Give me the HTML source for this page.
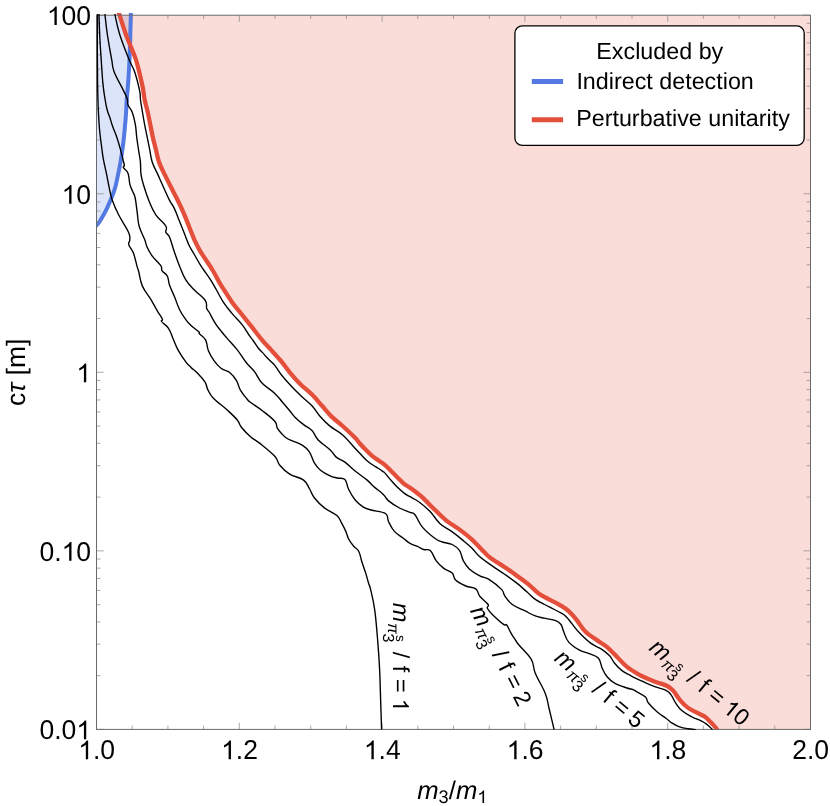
<!DOCTYPE html>
<html><head><meta charset="utf-8"><title>plot</title>
<style>
html,body{margin:0;padding:0;background:#fff;}
body{width:830px;height:806px;overflow:hidden;}
svg{display:block;will-change:transform;}
text{font-family:"Liberation Sans",sans-serif;fill:#000;text-rendering:geometricPrecision;}
.i{font-style:italic;}
</style></head><body>
<svg width="830" height="806" viewBox="0 0 830 806">
<rect x="0" y="0" width="830" height="806" fill="#fff"/>
<defs><clipPath id="cp2"><rect x="96.5" y="15.2" width="714.0" height="714.1999999999999"/></clipPath><clipPath id="cp"><rect x="96.5" y="12.899999999999999" width="714.0" height="716.9999999999999"/></clipPath></defs>

<path d="M130.9,10.0C130.9,10.5 131.0,8.8 130.9,13.0C130.8,17.2 130.5,27.2 130.3,35.0C130.1,42.8 129.9,51.3 129.5,59.6C129.1,67.9 128.5,78.3 128.0,85.0C127.5,91.7 127.0,95.4 126.7,100.0C126.4,104.6 126.4,108.3 126.1,112.4C125.8,116.5 125.5,120.7 125.1,124.8C124.7,128.9 124.4,133.1 123.9,137.2C123.5,141.3 123.0,145.5 122.4,149.6C121.8,153.7 121.2,157.9 120.5,162.0C119.8,166.1 119.0,170.2 118.1,174.4C117.2,178.7 116.3,183.5 115.2,187.5C114.1,191.5 112.7,194.8 111.2,198.5C109.7,202.2 108.1,206.2 106.2,209.9C104.3,213.7 101.6,218.4 100.0,221.0C98.4,223.6 97.8,223.7 96.5,225.3C95.2,226.9 93.2,229.6 92.5,230.5L96.5,15.2Z" fill="#527ae2" fill-opacity="0.2" clip-path="url(#cp2)"/>
<path d="M117.9,10.0C118.1,10.5 117.6,8.9 118.9,13.0C120.2,17.1 123.2,27.0 126.0,34.8C128.8,42.6 133.2,51.3 135.9,59.6C138.6,67.9 140.9,79.2 142.1,84.4C143.3,89.6 142.9,88.0 143.3,90.6C143.7,93.2 143.9,96.4 144.7,100.0C145.4,103.6 146.9,108.3 147.8,112.4C148.7,116.5 149.5,120.7 150.3,124.8C151.1,128.9 151.9,133.1 152.8,137.2C153.7,141.3 154.9,145.5 155.9,149.6C156.9,153.7 157.6,157.9 159.0,162.0C160.4,166.1 162.6,170.3 164.6,174.4C166.6,178.5 168.5,182.3 170.8,186.8C173.1,191.3 175.9,196.5 178.2,201.2C180.5,205.9 182.6,210.5 184.4,214.8C186.2,219.1 187.7,223.1 189.3,227.2C191.0,231.3 192.5,235.7 194.3,239.6C196.1,243.5 197.0,245.7 200.0,250.8C203.0,255.9 209.3,264.7 212.5,270.0C215.7,275.3 217.4,279.1 219.3,282.4C221.2,285.7 221.9,286.7 224.1,290.0C226.2,293.3 229.2,298.3 232.2,302.4C235.2,306.5 238.8,310.7 242.1,314.8C245.4,318.9 248.7,323.0 252.0,327.2C255.3,331.4 258.6,335.9 261.9,339.8C265.1,343.7 268.2,346.8 271.5,350.4C274.8,354.0 278.2,357.7 281.4,361.5C284.6,365.3 287.2,369.4 290.5,373.3C293.8,377.2 297.3,381.1 300.9,384.7C304.5,388.2 308.5,391.1 312.0,394.6C315.5,398.1 318.7,402.1 322.0,405.8C325.3,409.5 328.5,413.6 331.9,416.9C335.2,420.2 338.3,422.1 342.1,425.5C345.9,428.9 351.8,434.6 354.8,437.6C357.8,440.6 358.1,441.6 360.0,443.7C361.9,445.8 364.1,448.1 366.2,450.2C368.3,452.3 370.3,454.4 372.4,456.1C374.5,457.8 376.5,459.1 378.6,460.5C380.7,461.9 382.7,463.1 384.8,464.8C386.9,466.6 388.9,468.9 391.0,471.0C393.1,473.1 395.1,475.1 397.2,477.2C399.3,479.3 401.3,481.6 403.4,483.4C405.5,485.2 407.8,486.2 410.0,487.8C412.2,489.4 414.7,491.2 416.8,492.8C418.9,494.4 419.4,494.6 422.4,497.4C425.4,500.2 430.9,506.0 434.8,509.8C438.7,513.6 441.9,517.0 446.0,520.3C450.1,523.6 455.3,526.4 459.6,529.6C463.9,532.8 467.9,535.8 472.0,539.6C476.1,543.4 481.4,549.3 484.4,552.3C487.4,555.3 486.5,554.9 489.9,557.4C493.3,559.9 500.2,564.2 504.8,567.3C509.4,570.4 513.1,573.0 517.2,576.0C521.3,579.0 526.1,582.4 529.6,585.3C533.1,588.2 535.0,590.9 538.3,593.3C541.6,595.7 545.8,597.6 549.5,599.6C553.2,601.6 557.1,603.4 560.3,605.3C563.4,607.2 565.7,608.5 568.4,610.9C571.1,613.3 573.7,616.3 576.4,619.6C579.1,622.9 581.5,627.6 584.8,630.9C588.1,634.2 592.3,636.9 596.0,639.6C599.7,642.3 603.6,644.2 607.1,647.1C610.6,650.0 613.8,653.7 617.1,657.0C620.4,660.3 623.3,663.9 627.0,666.9C630.7,669.9 635.3,672.5 639.4,674.8C643.5,677.0 648.4,679.0 651.8,680.4C655.2,681.8 657.4,682.5 660.0,683.4C662.6,684.3 665.0,684.8 667.2,686.0C669.4,687.2 671.3,688.6 673.4,690.9C675.5,693.2 677.3,696.9 679.6,699.6C681.9,702.3 684.2,704.9 687.1,707.1C690.0,709.3 694.1,711.2 697.0,712.7C699.9,714.2 702.1,714.9 704.4,716.4C706.7,717.9 708.4,719.8 710.6,722.0C712.8,724.2 716.4,728.5 717.5,729.8L810.5,729.4L810.5,15.2Z" fill="#e44f3c" fill-opacity="0.2" clip-path="url(#cp2)"/>
<g clip-path="url(#cp)" fill="none" stroke-linejoin="round" stroke-linecap="butt">
<path d="M130.9,10.0C130.9,10.5 131.0,8.8 130.9,13.0C130.8,17.2 130.5,27.2 130.3,35.0C130.1,42.8 129.9,51.3 129.5,59.6C129.1,67.9 128.5,78.3 128.0,85.0C127.5,91.7 127.0,95.4 126.7,100.0C126.4,104.6 126.4,108.3 126.1,112.4C125.8,116.5 125.5,120.7 125.1,124.8C124.7,128.9 124.4,133.1 123.9,137.2C123.5,141.3 123.0,145.5 122.4,149.6C121.8,153.7 121.2,157.9 120.5,162.0C119.8,166.1 119.0,170.2 118.1,174.4C117.2,178.7 116.3,183.5 115.2,187.5C114.1,191.5 112.7,194.8 111.2,198.5C109.7,202.2 108.1,206.2 106.2,209.9C104.3,213.7 101.6,218.4 100.0,221.0C98.4,223.6 97.8,223.7 96.5,225.3C95.2,226.9 93.2,229.6 92.5,230.5" stroke="#527ae2" stroke-width="4.0"/>
<path d="M117.9,10.0C118.1,10.5 117.6,8.9 118.9,13.0C120.2,17.1 123.2,27.0 126.0,34.8C128.8,42.6 133.2,51.3 135.9,59.6C138.6,67.9 140.9,79.2 142.1,84.4C143.3,89.6 142.9,88.0 143.3,90.6C143.7,93.2 143.9,96.4 144.7,100.0C145.4,103.6 146.9,108.3 147.8,112.4C148.7,116.5 149.5,120.7 150.3,124.8C151.1,128.9 151.9,133.1 152.8,137.2C153.7,141.3 154.9,145.5 155.9,149.6C156.9,153.7 157.6,157.9 159.0,162.0C160.4,166.1 162.6,170.3 164.6,174.4C166.6,178.5 168.5,182.3 170.8,186.8C173.1,191.3 175.9,196.5 178.2,201.2C180.5,205.9 182.6,210.5 184.4,214.8C186.2,219.1 187.7,223.1 189.3,227.2C191.0,231.3 192.5,235.7 194.3,239.6C196.1,243.5 197.0,245.7 200.0,250.8C203.0,255.9 209.3,264.7 212.5,270.0C215.7,275.3 217.4,279.1 219.3,282.4C221.2,285.7 221.9,286.7 224.1,290.0C226.2,293.3 229.2,298.3 232.2,302.4C235.2,306.5 238.8,310.7 242.1,314.8C245.4,318.9 248.7,323.0 252.0,327.2C255.3,331.4 258.6,335.9 261.9,339.8C265.1,343.7 268.2,346.8 271.5,350.4C274.8,354.0 278.2,357.7 281.4,361.5C284.6,365.3 287.2,369.4 290.5,373.3C293.8,377.2 297.3,381.1 300.9,384.7C304.5,388.2 308.5,391.1 312.0,394.6C315.5,398.1 318.7,402.1 322.0,405.8C325.3,409.5 328.5,413.6 331.9,416.9C335.2,420.2 338.3,422.1 342.1,425.5C345.9,428.9 351.8,434.6 354.8,437.6C357.8,440.6 358.1,441.6 360.0,443.7C361.9,445.8 364.1,448.1 366.2,450.2C368.3,452.3 370.3,454.4 372.4,456.1C374.5,457.8 376.5,459.1 378.6,460.5C380.7,461.9 382.7,463.1 384.8,464.8C386.9,466.6 388.9,468.9 391.0,471.0C393.1,473.1 395.1,475.1 397.2,477.2C399.3,479.3 401.3,481.6 403.4,483.4C405.5,485.2 407.8,486.2 410.0,487.8C412.2,489.4 414.7,491.2 416.8,492.8C418.9,494.4 419.4,494.6 422.4,497.4C425.4,500.2 430.9,506.0 434.8,509.8C438.7,513.6 441.9,517.0 446.0,520.3C450.1,523.6 455.3,526.4 459.6,529.6C463.9,532.8 467.9,535.8 472.0,539.6C476.1,543.4 481.4,549.3 484.4,552.3C487.4,555.3 486.5,554.9 489.9,557.4C493.3,559.9 500.2,564.2 504.8,567.3C509.4,570.4 513.1,573.0 517.2,576.0C521.3,579.0 526.1,582.4 529.6,585.3C533.1,588.2 535.0,590.9 538.3,593.3C541.6,595.7 545.8,597.6 549.5,599.6C553.2,601.6 557.1,603.4 560.3,605.3C563.4,607.2 565.7,608.5 568.4,610.9C571.1,613.3 573.7,616.3 576.4,619.6C579.1,622.9 581.5,627.6 584.8,630.9C588.1,634.2 592.3,636.9 596.0,639.6C599.7,642.3 603.6,644.2 607.1,647.1C610.6,650.0 613.8,653.7 617.1,657.0C620.4,660.3 623.3,663.9 627.0,666.9C630.7,669.9 635.3,672.5 639.4,674.8C643.5,677.0 648.4,679.0 651.8,680.4C655.2,681.8 657.4,682.5 660.0,683.4C662.6,684.3 665.0,684.8 667.2,686.0C669.4,687.2 671.3,688.6 673.4,690.9C675.5,693.2 677.3,696.9 679.6,699.6C681.9,702.3 684.2,704.9 687.1,707.1C690.0,709.3 694.1,711.2 697.0,712.7C699.9,714.2 702.1,714.9 704.4,716.4C706.7,717.9 708.4,719.8 710.6,722.0C712.8,724.2 716.4,728.5 717.5,729.8" stroke="#e44f3c" stroke-width="4.3"/>
</g>
<path d="M96.50,729.4v-6.6M96.50,15.2v6.6M132.20,729.4v-3.8M132.20,15.2v3.8M167.90,729.4v-3.8M167.90,15.2v3.8M203.60,729.4v-3.8M203.60,15.2v3.8M239.30,729.4v-6.6M239.30,15.2v6.6M275.00,729.4v-3.8M275.00,15.2v3.8M310.70,729.4v-3.8M310.70,15.2v3.8M346.40,729.4v-3.8M346.40,15.2v3.8M382.10,729.4v-6.6M382.10,15.2v6.6M417.80,729.4v-3.8M417.80,15.2v3.8M453.50,729.4v-3.8M453.50,15.2v3.8M489.20,729.4v-3.8M489.20,15.2v3.8M524.90,729.4v-6.6M524.90,15.2v6.6M560.60,729.4v-3.8M560.60,15.2v3.8M596.30,729.4v-3.8M596.30,15.2v3.8M632.00,729.4v-3.8M632.00,15.2v3.8M667.70,729.4v-6.6M667.70,15.2v6.6M703.40,729.4v-3.8M703.40,15.2v3.8M739.10,729.4v-3.8M739.10,15.2v3.8M774.80,729.4v-3.8M774.80,15.2v3.8M810.50,729.4v-6.6M810.50,15.2v6.6M96.5,729.40h7.2M810.5,729.40h-7.2M96.5,675.65h3.9M810.5,675.65h-3.9M96.5,644.21h3.9M810.5,644.21h-3.9M96.5,621.90h3.9M810.5,621.90h-3.9M96.5,604.60h3.9M810.5,604.60h-3.9M96.5,590.46h3.9M810.5,590.46h-3.9M96.5,578.51h3.9M810.5,578.51h-3.9M96.5,568.15h3.9M810.5,568.15h-3.9M96.5,559.02h3.9M810.5,559.02h-3.9M96.5,550.85h7.2M810.5,550.85h-7.2M96.5,497.10h3.9M810.5,497.10h-3.9M96.5,465.66h3.9M810.5,465.66h-3.9M96.5,443.35h3.9M810.5,443.35h-3.9M96.5,426.05h3.9M810.5,426.05h-3.9M96.5,411.91h3.9M810.5,411.91h-3.9M96.5,399.96h3.9M810.5,399.96h-3.9M96.5,389.60h3.9M810.5,389.60h-3.9M96.5,380.47h3.9M810.5,380.47h-3.9M96.5,372.30h7.2M810.5,372.30h-7.2M96.5,318.55h3.9M810.5,318.55h-3.9M96.5,287.11h3.9M810.5,287.11h-3.9M96.5,264.80h3.9M810.5,264.80h-3.9M96.5,247.50h3.9M810.5,247.50h-3.9M96.5,233.36h3.9M810.5,233.36h-3.9M96.5,221.41h3.9M810.5,221.41h-3.9M96.5,211.05h3.9M810.5,211.05h-3.9M96.5,201.92h3.9M810.5,201.92h-3.9M96.5,193.75h7.2M810.5,193.75h-7.2M96.5,140.00h3.9M810.5,140.00h-3.9M96.5,108.56h3.9M810.5,108.56h-3.9M96.5,86.25h3.9M810.5,86.25h-3.9M96.5,68.95h3.9M810.5,68.95h-3.9M96.5,54.81h3.9M810.5,54.81h-3.9M96.5,42.86h3.9M810.5,42.86h-3.9M96.5,32.50h3.9M810.5,32.50h-3.9M96.5,23.37h3.9M810.5,23.37h-3.9M96.5,15.20h7.2M810.5,15.20h-7.2" stroke="#858585" stroke-width="0.7" fill="none"/>
<rect x="96.5" y="15.2" width="714.0" height="714.1999999999999" fill="none" stroke="#6a6a6a" stroke-width="1"/>
<g clip-path="url(#cp)" fill="none" stroke-linejoin="round" stroke-linecap="butt">
<path d="M97.5,14.0C97.5,20.2 97.3,33.8 97.3,45.0C97.3,56.2 97.4,61.0 97.5,70.0C97.6,79.0 97.5,82.0 97.7,90.0C97.9,98.0 97.9,102.2 98.3,110.0C98.7,117.8 98.8,121.2 99.5,129.0C100.2,136.8 101.1,142.8 101.9,149.0C102.7,155.2 102.5,154.5 103.5,159.9C104.5,165.3 105.7,169.9 106.9,175.8C108.1,181.7 108.5,184.8 109.6,189.6C110.7,194.4 110.4,195.0 112.2,200.0C114.0,205.0 115.3,208.4 118.6,214.8C121.9,221.2 126.3,227.2 128.5,232.2C130.7,237.2 129.7,237.1 129.8,239.6C129.9,242.1 128.1,241.9 128.8,244.6C129.5,247.3 131.8,248.8 133.5,253.3C135.2,257.8 136.1,263.2 137.2,266.9C138.3,270.6 137.8,268.2 138.8,272.0C139.8,275.8 139.9,280.5 142.4,286.1C144.9,291.7 148.1,294.8 151.1,299.8C154.1,304.8 155.1,307.1 157.3,310.9C159.5,314.7 161.4,316.9 162.3,319.0C163.2,321.1 160.4,319.6 161.6,321.5C162.8,323.4 166.1,324.7 168.5,328.3C170.9,331.9 171.4,335.0 173.4,339.5C175.4,344.0 175.9,346.1 178.4,350.6C180.9,355.1 183.3,358.4 185.8,361.8C188.3,365.2 188.7,365.1 191.0,367.4C193.3,369.7 194.6,370.2 197.4,373.1C200.2,376.0 202.8,378.5 204.9,381.8C207.0,385.1 206.1,386.3 207.8,389.6C209.5,392.9 209.5,394.1 213.4,398.2C217.3,402.3 222.5,405.7 227.3,410.1C232.1,414.5 234.5,416.6 237.3,420.0C240.1,423.4 238.6,423.6 241.2,427.0C243.8,430.4 246.8,433.5 250.5,436.8C254.2,440.1 255.0,439.5 259.9,443.4C264.8,447.3 270.8,451.9 274.8,456.3C278.8,460.7 276.8,461.6 279.8,465.2C282.8,468.8 284.9,471.1 289.7,474.1C294.5,477.1 299.6,477.1 303.6,480.1C307.6,483.1 307.4,485.4 309.6,489.0C311.8,492.6 311.5,494.2 314.5,498.0C317.5,501.8 319.9,504.4 324.4,507.9C328.9,511.4 333.4,512.4 336.9,515.5C340.4,518.6 340.0,520.2 341.8,523.4C343.6,526.6 344.4,528.2 345.8,531.4C347.2,534.6 347.2,536.3 348.8,539.3C350.4,542.3 351.7,543.9 353.7,546.3C355.7,548.7 357.1,548.2 358.7,551.2C360.3,554.2 360.3,556.8 361.7,561.2C363.1,565.6 364.3,568.7 365.7,573.1C367.1,577.5 367.5,579.6 368.5,583.0C369.5,586.4 369.5,584.5 370.7,589.9C371.9,595.3 373.3,599.9 374.7,609.8C376.1,619.7 376.6,627.7 377.6,639.6C378.6,651.5 379.0,657.4 379.6,669.3C380.2,681.2 380.2,687.0 380.6,699.1C381.0,711.2 381.4,723.5 381.6,729.6" stroke="#000" stroke-width="1.38"/>
<path d="M99.0,14.0C99.1,18.2 99.3,25.7 99.7,34.8C100.1,43.9 100.5,49.7 101.2,59.6C101.9,69.5 102.2,76.3 103.0,84.4C103.8,92.5 104.4,94.9 105.2,100.0C106.0,105.1 106.3,106.6 107.2,110.0C108.1,113.4 108.6,113.8 109.7,117.0C110.8,120.2 111.1,122.1 112.5,126.1C113.9,130.1 115.2,132.5 116.8,137.2C118.4,141.9 119.1,144.6 120.5,149.6C121.9,154.6 122.8,158.8 123.6,162.0C124.4,165.2 124.3,164.7 124.3,165.8C124.3,166.9 122.7,166.1 123.4,167.6C124.1,169.1 126.7,169.8 128.0,173.2C129.3,176.6 129.0,180.8 129.9,184.4C130.8,188.0 131.4,188.3 132.5,191.0C133.6,193.7 134.3,193.7 135.2,198.0C136.1,202.3 136.4,206.7 137.2,212.3C138.0,217.9 137.6,220.5 139.1,226.0C140.6,231.5 143.1,235.4 144.7,239.6C146.3,243.8 145.6,243.9 147.1,247.1C148.6,250.3 149.4,252.1 152.1,255.8C154.8,259.5 158.8,262.7 160.8,265.7C162.8,268.7 160.7,268.5 162.0,270.6C163.3,272.7 165.9,273.3 167.4,276.2C168.9,279.1 168.0,280.8 169.5,285.0C171.0,289.2 172.7,292.4 174.7,297.3C176.7,302.2 177.4,305.2 179.6,309.7C181.8,314.2 183.5,316.4 185.8,319.6C188.1,322.8 188.4,323.2 191.0,325.6C193.6,328.0 197.1,330.1 198.8,331.8C200.5,333.5 198.1,332.3 199.5,333.9C200.9,335.5 203.8,336.5 205.6,339.9C207.4,343.3 206.7,346.6 208.4,350.7C210.1,354.8 211.5,357.1 214.0,360.6C216.5,364.1 217.9,365.8 221.0,368.2C224.1,370.6 226.6,370.0 229.7,372.5C232.8,375.0 234.4,377.1 236.5,380.6C238.6,384.1 238.3,386.4 240.4,390.1C242.5,393.8 245.3,396.8 247.2,399.2C249.1,401.6 247.0,399.7 250.0,402.0C253.0,404.3 257.4,406.8 262.4,410.7C267.4,414.6 271.8,417.8 274.8,421.3C277.8,424.8 275.8,425.5 277.3,428.1C278.8,430.7 280.2,432.1 282.3,434.3C284.4,436.5 283.9,436.8 288.0,439.0C292.1,441.2 298.3,442.7 302.6,445.4C306.9,448.1 307.2,448.7 309.6,452.3C312.0,455.9 312.3,459.6 314.5,463.2C316.7,466.8 317.4,467.7 320.5,470.2C323.6,472.7 326.6,474.2 330.0,475.8C333.4,477.4 334.4,477.2 337.4,478.0C340.4,478.8 342.6,477.3 344.9,479.6C347.2,481.9 346.6,485.4 348.7,489.5C350.8,493.6 352.3,496.5 355.2,500.0C358.1,503.5 359.8,504.8 363.0,506.8C366.2,508.8 366.5,508.7 371.0,510.0C375.5,511.3 382.0,511.2 385.5,513.5C389.0,515.8 386.7,517.9 388.5,521.5C390.3,525.1 391.4,528.0 394.4,531.4C397.4,534.8 400.3,535.9 403.4,538.3C406.5,540.7 407.2,541.7 410.0,543.3C412.8,544.9 414.7,545.2 417.4,546.4C420.1,547.6 421.0,548.6 423.6,549.5C426.2,550.4 428.0,548.5 430.5,550.7C433.0,552.9 433.5,557.1 436.1,560.6C438.7,564.1 440.3,565.6 443.5,568.1C446.7,570.6 449.8,570.7 452.2,573.1C454.6,575.5 452.9,577.4 455.6,580.0C458.3,582.6 461.8,584.2 465.8,586.0C469.8,587.8 472.9,586.8 475.7,588.9C478.5,591.0 477.5,593.4 480.0,596.5C482.5,599.6 486.6,602.2 488.1,604.5C489.6,606.8 486.5,606.2 487.4,608.2C488.3,610.2 489.2,611.2 492.4,614.4C495.6,617.6 500.7,622.3 503.6,624.4C506.5,626.5 505.2,623.3 506.7,625.0C508.2,626.7 509.3,630.1 511.0,633.1C512.7,636.1 513.7,637.5 515.4,640.0C517.1,642.5 516.2,641.6 519.4,645.5C522.6,649.4 528.1,653.8 531.3,659.4C534.5,665.0 532.5,666.5 535.3,673.3C538.1,680.1 542.4,686.1 545.2,693.2C548.0,700.3 547.4,701.7 549.2,709.0C551.0,716.3 553.1,725.5 554.1,729.6" stroke="#000" stroke-width="1.38"/>
<path d="M104.9,14.0C105.4,18.2 106.0,25.7 107.4,34.8C108.8,43.9 110.3,52.2 111.7,59.6C113.1,67.0 111.8,65.8 114.2,72.0C116.6,78.2 120.9,85.2 123.5,90.6C126.1,96.0 126.4,96.1 127.3,99.0C128.2,101.9 127.0,102.3 128.0,105.0C129.0,107.7 130.8,108.4 132.3,112.4C133.8,116.4 134.5,119.8 135.4,124.8C136.3,129.8 136.1,132.2 136.7,137.2C137.3,142.2 137.8,144.6 138.5,149.6C139.2,154.6 139.9,157.0 140.4,162.0C140.9,167.0 140.3,169.4 141.0,174.4C141.7,179.4 142.5,181.5 144.1,186.8C145.7,192.1 146.7,195.4 149.0,201.0C151.3,206.6 152.4,209.8 155.8,214.8C159.2,219.8 163.8,222.5 165.8,226.0C167.8,229.5 165.1,230.0 165.8,232.2C166.5,234.4 167.8,233.1 169.5,237.1C171.2,241.1 172.4,246.3 174.4,252.0C176.4,257.7 177.1,260.1 179.4,265.7C181.7,271.3 182.8,275.0 185.8,279.9C188.8,284.8 190.5,285.9 194.4,290.0C198.3,294.1 202.8,296.8 205.3,300.5C207.8,304.2 205.8,306.0 206.7,308.5C207.6,311.0 207.9,310.0 209.6,313.0C211.3,316.0 212.9,319.6 215.3,323.4C217.7,327.2 219.4,329.0 221.8,332.0C224.2,335.0 224.1,334.9 227.2,338.4C230.3,341.9 233.4,344.9 237.1,349.6C240.8,354.3 243.2,358.6 245.8,362.0C248.4,365.4 248.2,364.6 250.0,366.7C251.8,368.8 252.6,369.0 255.0,372.3C257.4,375.6 258.2,379.0 262.2,383.2C266.2,387.4 270.8,389.6 274.8,393.4C278.8,397.2 279.3,398.5 282.3,402.0C285.3,405.5 287.2,407.7 289.7,410.7C292.2,413.7 292.0,414.2 294.7,416.9C297.4,419.6 299.8,421.7 303.3,424.4C306.8,427.1 309.0,427.5 312.0,430.6C315.0,433.7 314.6,436.2 318.2,440.0C321.8,443.8 326.4,446.3 330.0,449.7C333.6,453.1 333.2,454.6 336.2,457.1C339.2,459.6 341.2,459.4 344.9,462.1C348.6,464.8 350.3,467.2 354.8,470.8C359.3,474.4 363.5,477.0 367.2,480.1C370.9,483.2 370.2,483.4 373.4,486.3C376.6,489.2 380.3,491.5 383.3,494.4C386.3,497.3 385.1,497.9 388.3,500.6C391.5,503.3 395.2,505.7 399.5,508.0C403.8,510.3 406.9,511.0 410.0,512.3C413.1,513.6 412.5,511.7 415.0,514.7C417.5,517.7 418.4,522.4 422.4,527.1C426.4,531.8 430.8,535.3 434.8,538.3C438.8,541.3 438.8,540.8 442.3,542.0C445.8,543.2 448.7,542.8 452.2,544.5C455.7,546.2 457.4,547.5 459.6,550.7C461.8,553.9 461.3,556.9 463.3,560.6C465.3,564.3 466.3,566.3 469.6,569.3C472.9,572.3 475.8,573.7 479.8,575.8C483.8,577.9 485.3,577.0 489.7,579.8C494.1,582.6 498.7,586.4 501.7,589.6C504.7,592.8 502.7,592.8 504.8,595.8C506.9,598.8 508.3,601.5 512.3,604.5C516.3,607.5 520.2,608.5 524.7,610.7C529.2,612.9 530.6,614.2 534.6,615.7C538.6,617.2 540.3,617.2 544.5,618.2C548.7,619.2 552.4,619.3 555.7,620.6C559.0,621.9 559.4,622.2 561.0,624.5C562.6,626.8 562.3,628.5 563.8,632.0C565.3,635.5 565.7,638.6 568.7,642.1C571.7,645.6 574.4,647.2 578.6,649.6C582.8,652.0 585.8,652.2 589.8,653.9C593.8,655.6 596.0,655.3 598.5,658.2C601.0,661.1 600.5,664.5 602.2,668.2C603.9,671.9 604.6,673.8 607.1,676.8C609.6,679.8 610.6,680.9 614.6,683.1C618.6,685.3 623.3,686.7 627.0,688.0C630.7,689.3 630.9,688.8 633.0,689.6C635.1,690.4 634.9,690.7 637.4,692.2C639.9,693.7 643.3,694.9 645.5,697.1C647.7,699.3 646.2,700.3 648.6,703.3C651.0,706.3 653.8,709.0 657.3,712.0C660.8,715.0 663.0,716.0 666.0,718.2C669.0,720.4 669.5,721.5 672.2,723.2C674.9,724.9 676.4,725.8 679.6,726.9C682.8,728.0 685.1,728.3 688.3,728.8C691.5,729.3 694.3,729.4 695.8,729.6" stroke="#000" stroke-width="1.38"/>
<path d="M114.8,14.0C115.8,18.2 116.9,25.7 119.8,34.8C122.7,43.9 126.1,52.2 129.1,59.6C132.1,67.0 132.6,65.8 134.7,72.0C136.8,78.2 138.4,85.0 139.6,90.6C140.8,96.2 139.9,95.6 140.5,100.0C141.1,104.4 141.7,107.4 142.5,112.4C143.3,117.4 143.8,119.8 144.7,124.8C145.6,129.8 146.2,132.2 147.2,137.2C148.2,142.2 148.7,144.6 149.7,149.6C150.7,154.6 150.6,157.0 152.2,162.0C153.8,167.0 155.6,169.4 157.8,174.4C160.0,179.4 161.0,181.7 163.3,186.8C165.6,191.9 167.1,195.5 169.3,199.9C171.5,204.3 172.4,204.4 174.4,208.6C176.4,212.8 177.4,216.0 179.4,221.0C181.4,226.0 182.4,228.4 184.4,233.4C186.4,238.4 187.3,241.6 189.3,245.8C191.3,250.0 192.2,250.8 194.3,254.5C196.4,258.2 198.1,261.3 200.0,264.4C201.9,267.5 201.7,266.9 203.8,270.0C205.9,273.1 208.1,275.9 210.6,279.9C213.1,283.9 213.9,285.5 216.5,290.0C219.1,294.5 220.4,297.7 223.5,302.4C226.6,307.1 228.5,309.1 232.2,313.6C235.9,318.1 238.6,320.2 242.1,324.7C245.6,329.2 247.4,332.7 249.6,335.9C251.8,339.1 251.4,338.1 253.1,340.5C254.8,342.9 256.3,345.6 258.2,348.0C260.1,350.4 260.7,350.5 262.4,352.4C264.1,354.3 264.7,355.3 266.9,357.6C269.1,359.9 271.6,361.9 273.6,364.0C275.6,366.1 275.1,365.8 276.8,368.2C278.5,370.6 279.6,372.6 282.3,376.0C285.0,379.4 286.8,381.2 290.5,385.2C294.2,389.2 296.6,391.7 300.9,395.8C305.2,399.9 308.3,401.8 312.0,405.8C315.7,409.8 316.0,411.7 319.5,415.7C323.0,419.7 325.1,422.1 329.7,425.9C334.3,429.7 337.4,430.4 342.4,434.8C347.4,439.2 351.3,444.2 354.8,448.0C358.3,451.8 357.7,451.2 360.0,453.6C362.3,456.0 363.7,457.7 366.2,459.9C368.7,462.1 369.9,463.1 372.4,464.8C374.9,466.5 376.5,467.1 378.6,468.5C380.7,469.9 381.8,470.7 383.0,471.6C384.2,472.5 383.2,471.2 384.8,472.9C386.4,474.6 388.5,477.5 391.0,480.3C393.5,483.1 394.5,484.5 397.2,487.1C399.9,489.7 401.8,491.5 404.4,493.4C407.0,495.3 407.2,495.1 410.0,496.7C412.8,498.3 414.4,498.6 418.4,501.5C422.4,504.4 425.6,506.9 429.9,511.3C434.2,515.7 435.6,519.5 439.8,523.4C444.0,527.3 446.4,527.7 450.9,530.9C455.4,534.1 457.9,536.1 462.1,539.6C466.3,543.1 468.5,544.8 472.0,548.2C475.5,551.6 475.8,553.3 479.8,556.8C483.8,560.3 487.2,562.4 492.2,565.9C497.2,569.4 499.6,570.7 504.6,574.2C509.6,577.7 512.7,579.8 517.2,583.4C521.7,587.0 523.6,589.0 527.1,592.1C530.6,595.2 531.1,596.4 534.6,598.9C538.1,601.4 540.5,602.4 544.5,604.5C548.5,606.6 550.9,607.7 554.4,609.5C557.9,611.3 559.8,612.3 562.2,613.7C564.6,615.1 564.2,614.7 566.2,616.7C568.2,618.7 569.4,620.6 572.1,623.9C574.8,627.2 576.1,629.4 579.9,633.3C583.7,637.2 586.5,640.1 591.0,643.4C595.5,646.7 598.5,647.1 602.2,649.6C605.9,652.1 607.1,653.1 609.6,655.8C612.1,658.5 612.1,660.2 614.6,663.2C617.1,666.2 618.7,668.1 622.0,670.6C625.3,673.1 626.7,673.6 631.0,675.8C635.3,678.0 638.6,679.5 643.4,681.7C648.2,683.9 650.3,684.9 654.8,686.6C659.3,688.3 662.8,688.7 666.0,690.3C669.2,691.9 668.9,692.1 670.9,694.7C672.9,697.3 673.7,700.1 675.9,703.3C678.1,706.5 678.9,708.1 682.1,710.8C685.3,713.5 688.3,715.0 692.0,717.0C695.7,719.0 697.7,719.2 700.7,720.7C703.7,722.2 704.5,722.6 706.9,724.4C709.3,726.2 711.4,728.6 712.5,729.6" stroke="#000" stroke-width="1.38"/>
</g>
<g transform="translate(78.28,759.30) scale(1,1.025)"><path transform="translate(0.00,0.00) scale(0.01294,-0.01239)" d="M763 0L583 0L583 1147Q518 1085 412.5 1023Q307 961 223 930L223 1104Q374 1175 487 1276Q600 1377 647 1472L763 1472Z" fill="#000"/><text x="14.74" y="0" font-size="26.5">.</text><text x="22.10" y="0" font-size="26.5">0</text></g>
<g transform="translate(221.08,759.30) scale(1,1.025)"><path transform="translate(0.00,0.00) scale(0.01294,-0.01239)" d="M763 0L583 0L583 1147Q518 1085 412.5 1023Q307 961 223 930L223 1104Q374 1175 487 1276Q600 1377 647 1472L763 1472Z" fill="#000"/><text x="14.74" y="0" font-size="26.5">.</text><text x="22.10" y="0" font-size="26.5">2</text></g>
<g transform="translate(363.88,759.30) scale(1,1.025)"><path transform="translate(0.00,0.00) scale(0.01294,-0.01239)" d="M763 0L583 0L583 1147Q518 1085 412.5 1023Q307 961 223 930L223 1104Q374 1175 487 1276Q600 1377 647 1472L763 1472Z" fill="#000"/><text x="14.74" y="0" font-size="26.5">.</text><text x="22.10" y="0" font-size="26.5">4</text></g>
<g transform="translate(506.68,759.30) scale(1,1.025)"><path transform="translate(0.00,0.00) scale(0.01294,-0.01239)" d="M763 0L583 0L583 1147Q518 1085 412.5 1023Q307 961 223 930L223 1104Q374 1175 487 1276Q600 1377 647 1472L763 1472Z" fill="#000"/><text x="14.74" y="0" font-size="26.5">.</text><text x="22.10" y="0" font-size="26.5">6</text></g>
<g transform="translate(649.48,759.30) scale(1,1.025)"><path transform="translate(0.00,0.00) scale(0.01294,-0.01239)" d="M763 0L583 0L583 1147Q518 1085 412.5 1023Q307 961 223 930L223 1104Q374 1175 487 1276Q600 1377 647 1472L763 1472Z" fill="#000"/><text x="14.74" y="0" font-size="26.5">.</text><text x="22.10" y="0" font-size="26.5">8</text></g>
<g transform="translate(792.28,759.30) scale(1,1.025)"><text x="0.00" y="0" font-size="26.5">2</text><text x="14.74" y="0" font-size="26.5">.</text><text x="22.10" y="0" font-size="26.5">0</text></g>
<g transform="translate(46.89,25.10) scale(1,1.025)"><path transform="translate(0.00,0.00) scale(0.01294,-0.01239)" d="M763 0L583 0L583 1147Q518 1085 412.5 1023Q307 961 223 930L223 1104Q374 1175 487 1276Q600 1377 647 1472L763 1472Z" fill="#000"/><text x="14.74" y="0" font-size="26.5">0</text><text x="29.48" y="0" font-size="26.5">0</text></g>
<g transform="translate(61.62,203.65) scale(1,1.025)"><path transform="translate(0.00,0.00) scale(0.01294,-0.01239)" d="M763 0L583 0L583 1147Q518 1085 412.5 1023Q307 961 223 930L223 1104Q374 1175 487 1276Q600 1377 647 1472L763 1472Z" fill="#000"/><text x="14.74" y="0" font-size="26.5">0</text></g>
<g transform="translate(76.36,382.20) scale(1,1.025)"><path transform="translate(0.00,0.00) scale(0.01294,-0.01239)" d="M763 0L583 0L583 1147Q518 1085 412.5 1023Q307 961 223 930L223 1104Q374 1175 487 1276Q600 1377 647 1472L763 1472Z" fill="#000"/></g>
<g transform="translate(39.52,560.75) scale(1,1.025)"><text x="0.00" y="0" font-size="26.5">0</text><text x="14.74" y="0" font-size="26.5">.</text><path transform="translate(22.10,0.00) scale(0.01294,-0.01239)" d="M763 0L583 0L583 1147Q518 1085 412.5 1023Q307 961 223 930L223 1104Q374 1175 487 1276Q600 1377 647 1472L763 1472Z" fill="#000"/><text x="36.84" y="0" font-size="26.5">0</text></g>
<g transform="translate(39.52,739.30) scale(1,1.025)"><text x="0.00" y="0" font-size="26.5">0</text><text x="14.74" y="0" font-size="26.5">.</text><text x="22.10" y="0" font-size="26.5">0</text><path transform="translate(36.84,0.00) scale(0.01294,-0.01239)" d="M763 0L583 0L583 1147Q518 1085 412.5 1023Q307 961 223 930L223 1104Q374 1175 487 1276Q600 1377 647 1472L763 1472Z" fill="#000"/></g>
<text x="447.25" y="799" font-size="25.7" text-anchor="middle"><tspan class="i">m</tspan><tspan font-size="18.2" dy="4">3</tspan><tspan dy="-4">/</tspan><tspan class="i">m</tspan></text>
<path transform="translate(477.30,803.00) scale(0.00889,-0.00851)" d="M763 0L583 0L583 1147Q518 1085 412.5 1023Q307 961 223 930L223 1104Q374 1175 487 1276Q600 1377 647 1472L763 1472Z" fill="#000"/>
<text transform="translate(25.2,372.3) rotate(-90)" font-size="26.5" text-anchor="middle">c<tspan class="i">τ</tspan> [m]</text>
<rect x="514.9" y="25.8" width="289.3" height="119.6" rx="7.5" ry="7.5" fill="#fff" stroke="#000" stroke-width="1.3"/>
<text x="659.8" y="59.0" font-size="23.3" text-anchor="middle">Excluded by</text>
<text x="576.4" y="89.0" font-size="23.3">Indirect detection</text>
<text x="576.2" y="126.4" font-size="23.3">Perturbative unitarity</text>
<line x1="531.8" x2="563.1" y1="81.5" y2="81.5" stroke="#527ae2" stroke-width="5"/>
<line x1="531.8" x2="563.1" y1="119.8" y2="119.8" stroke="#e44f3c" stroke-width="5"/>
<g transform="translate(393.0,603.3) rotate(90)"><text x="-0.6" y="0" font-size="23.6" class="i">m</text><text x="19.6" y="4.7" font-size="16" class="i">π</text><text x="30.3" y="9.9" font-size="16">3</text><text x="31.6" y="-2.5" font-size="13.5">s</text><text x="51.7" y="0" font-size="23.2" text-anchor="middle">/</text><text x="65.8" y="0" font-size="23.2" text-anchor="middle">f</text><text x="82.4" y="0" font-size="23.2" text-anchor="middle">=</text><path transform="translate(95.40,0.00) scale(0.01133,-0.01084)" d="M763 0L583 0L583 1147Q518 1085 412.5 1023Q307 961 223 930L223 1104Q374 1175 487 1276Q600 1377 647 1472L763 1472Z" fill="#000"/></g>
<g transform="translate(469.9,611.4) rotate(63.3)"><text x="-0.6" y="0" font-size="23.6" class="i">m</text><text x="19.6" y="4.7" font-size="16" class="i">π</text><text x="30.3" y="9.9" font-size="16">3</text><text x="31.6" y="-2.5" font-size="13.5">s</text><text x="51.7" y="0" font-size="23.2" text-anchor="middle">/</text><text x="65.8" y="0" font-size="23.2" text-anchor="middle">f</text><text x="82.4" y="0" font-size="23.2" text-anchor="middle">=</text><text x="94.9" y="0" font-size="23.2">2</text></g>
<g transform="translate(553.7,660.5) rotate(39.8)"><text x="-0.6" y="0" font-size="23.6" class="i">m</text><text x="19.6" y="4.7" font-size="16" class="i">π</text><text x="30.3" y="9.9" font-size="16">3</text><text x="31.6" y="-2.5" font-size="13.5">s</text><text x="51.7" y="0" font-size="23.2" text-anchor="middle">/</text><text x="65.8" y="0" font-size="23.2" text-anchor="middle">f</text><text x="82.4" y="0" font-size="23.2" text-anchor="middle">=</text><text x="94.9" y="0" font-size="23.2">5</text></g>
<g transform="translate(648.5,649.8) rotate(39.7)"><text x="-0.6" y="0" font-size="23.6" class="i">m</text><text x="19.6" y="4.7" font-size="16" class="i">π</text><text x="30.3" y="9.9" font-size="16">3</text><text x="31.6" y="-2.5" font-size="13.5">s</text><text x="51.7" y="0" font-size="23.2" text-anchor="middle">/</text><text x="65.8" y="0" font-size="23.2" text-anchor="middle">f</text><text x="82.4" y="0" font-size="23.2" text-anchor="middle">=</text><path transform="translate(94.90,0.00) scale(0.01133,-0.01084)" d="M763 0L583 0L583 1147Q518 1085 412.5 1023Q307 961 223 930L223 1104Q374 1175 487 1276Q600 1377 647 1472L763 1472Z" fill="#000"/><text x="107.80" y="0" font-size="23.2">0</text></g>
</svg></body></html>
